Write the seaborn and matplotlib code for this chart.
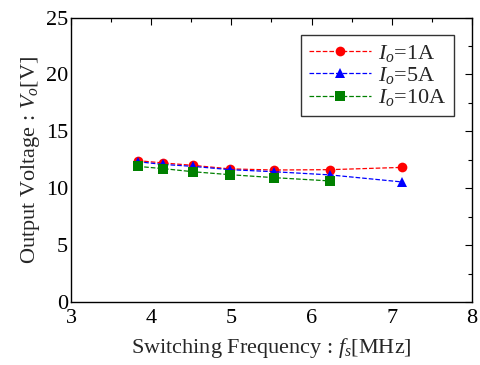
import numpy as np
import pandas as pd
import matplotlib
matplotlib.use('Agg')
import matplotlib.pyplot as plt
import seaborn as sns
from matplotlib.ticker import MultipleLocator

# data
freq = [3.83, 4.15, 4.52, 4.98, 5.53, 6.23, 7.13]
v_1a = [12.43, 12.23, 12.02, 11.71, 11.61, 11.64, 11.84]
v_5a = [12.34, 12.10, 11.93, 11.64, 11.46, 11.18, 10.56]
v_10a = [11.93, 11.73, 11.46, 11.20, 10.94, 10.65]
labels = ['$I_o$=1A', '$I_o$=5A', '$I_o$=10A']

sns.set_theme(style='white')
plt.rcParams['font.family'] = ['Liberation Serif', 'DejaVu Serif']
plt.rcParams['mathtext.fontset'] = 'custom'
plt.rcParams['mathtext.rm'] = 'Liberation Serif'
plt.rcParams['mathtext.it'] = 'Liberation Serif:italic'

df = pd.concat([
    pd.DataFrame({'f': freq, 'V': v_1a, 'I': labels[0]}),
    pd.DataFrame({'f': freq, 'V': v_5a, 'I': labels[1]}),
    pd.DataFrame({'f': freq[:len(v_10a)], 'V': v_10a, 'I': labels[2]}),
])

fig, ax = plt.subplots(figsize=(4.8, 3.65), dpi=100)
styles = {labels[0]: ('red', 'o'), labels[1]: ('blue', '^'), labels[2]: ('green', 's')}
for lab in labels:
    c, m = styles[lab]
    sub = df[df['I'] == lab]
    sns.lineplot(data=sub, x='f', y='V', ax=ax, color=c, marker=m,
                 markersize=7, markeredgewidth=0, linestyle='--', lw=0.9,
                 label=lab)

ax.set_xlim(3, 8)
ax.set_ylim(0, 25)
ax.xaxis.set_major_locator(MultipleLocator(1))
ax.xaxis.set_minor_locator(MultipleLocator(0.5))
ax.yaxis.set_major_locator(MultipleLocator(5))
ax.yaxis.set_minor_locator(MultipleLocator(2.5))
ax.tick_params(which='both', direction='in', top=True, right=True,
               labelsize=16, colors='black')
ax.tick_params(which='major', length=5, width=0.8)
ax.tick_params(which='minor', length=3, width=0.8)
ax.tick_params(axis='x', which='major', pad=5)
ax.tick_params(axis='y', which='major', pad=2)
for s in ax.spines.values():
    s.set_color('black')
    s.set_linewidth(1.0)

ax.set_xlabel('Switching Frequency : $f_s$[MHz]', fontsize=16, labelpad=6)
ax.set_ylabel('Output Voltage : $V_o$[V]', fontsize=16, labelpad=3)

leg = ax.legend(loc='upper right', fontsize=16, frameon=True, fancybox=False,
                edgecolor='black', handlelength=2.8, handletextpad=0.3,
                labelspacing=0.05, borderpad=0.35, borderaxespad=0.8)
leg.get_frame().set_linewidth(1.0)

fig.subplots_adjust(left=0.148, right=0.983, bottom=0.172, top=0.952)
fig.savefig('out.png', dpi=100)
